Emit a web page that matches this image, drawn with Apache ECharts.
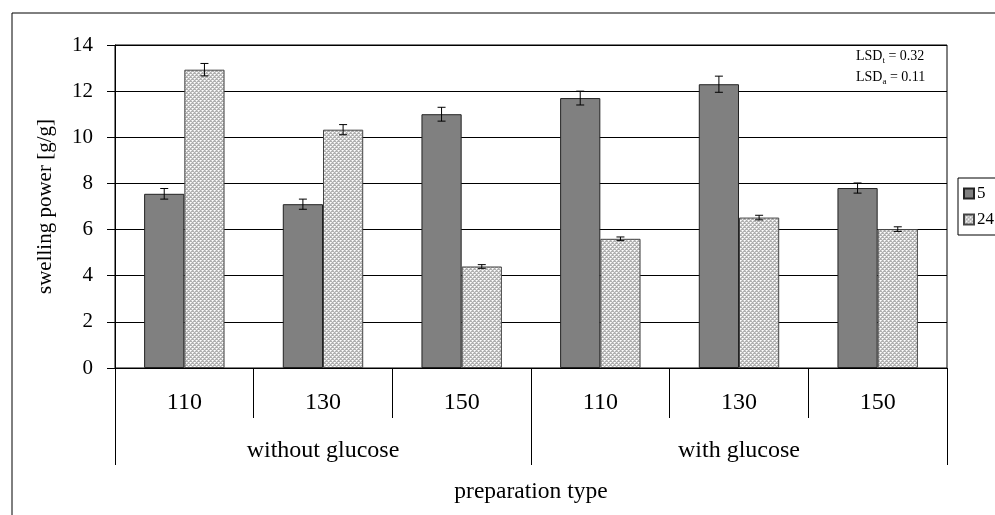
<!DOCTYPE html>
<html>
<head>
<meta charset="utf-8">
<script src="https://cdn.jsdelivr.net/npm/echarts@6/dist/echarts.min.js"></script>
<style>
html,body{margin:0;padding:0;background:#fff;}
#chart{width:995px;height:515px;}
</style>
</head>
<body>
<div id="chart"></div>
<script>
// ---- data ----
const groups = ['without glucose', 'with glucose'];
const categories = ['110', '130', '150', '110', '130', '150'];
const seriesNames = ['5', '24'];
const values5 = [7.55, 7.1, 11.0, 11.7, 12.3, 7.8];
const err5 = [0.23, 0.22, 0.3, 0.3, 0.35, 0.22];
const values24 = [12.93, 10.33, 4.4, 5.6, 6.52, 6.02];
const err24 = [0.27, 0.22, 0.08, 0.08, 0.1, 0.1];
const yTicks = [0, 2, 4, 6, 8, 10, 12, 14];
const lsdLines = [['LSD', 't', ' = 0.32'], ['LSD', 'a', ' = 0.11']];

// ---- pattern for "24" ----
function makePattern() {
  const c = document.createElement('canvas');
  c.width = 4; c.height = 4;
  const ctx = c.getContext('2d');
  ctx.fillStyle = '#b0b0b0';
  ctx.fillRect(0, 0, 4, 4);
  ctx.fillStyle = '#ffffff';
  ctx.fillRect(0, 0, 1, 1); ctx.fillRect(2, 2, 1, 1);
  ctx.fillStyle = '#e8e8e8';
  ctx.fillRect(1, 0, 1, 1); ctx.fillRect(0, 1, 1, 1); ctx.fillRect(3, 2, 1, 1); ctx.fillRect(2, 3, 1, 1);
  ctx.fillStyle = '#d0d0d0';
  ctx.fillRect(3, 0, 1, 1); ctx.fillRect(1, 2, 1, 1);
  return c;
}
const patternColor = { image: makePattern(), repeat: 'repeat' };

const BAR_FRAC = 0.29;
const FONT = 'Liberation Serif';

function errSeries(name, vals, errs, sign) {
  return {
    type: 'custom',
    name: name + ' err',
    xAxisIndex: 0, yAxisIndex: 0,
    z: 10,
    silent: true,
    encode: { x: 0, y: 1 },
    data: vals.map((v, i) => [i, v, errs[i]]),
    renderItem: function (params, api) {
      const idx = api.value(0), v = api.value(1), e = api.value(2);
      const band = api.size([1, 0])[0];
      const c = api.coord([idx, v]);
      const x = c[0] + sign * band * BAR_FRAC / 2;
      const top = api.coord([idx, v + e])[1];
      const bot = api.coord([idx, v - e])[1];
      const cap = 4;
      const st = { stroke: '#000', lineWidth: 1 };
      return {
        type: 'group',
        children: [
          { type: 'line', shape: { x1: x, y1: top, x2: x, y2: bot }, style: st },
          { type: 'line', shape: { x1: x - cap, y1: top, x2: x + cap, y2: top }, style: st },
          { type: 'line', shape: { x1: x - cap, y1: bot, x2: x + cap, y2: bot }, style: st }
        ]
      };
    }
  };
}

const chart = echarts.init(document.getElementById('chart'), null, { renderer: 'canvas' });

const richStyles = {
  m: { fontFamily: FONT, fontSize: 14, color: '#000', lineHeight: 21, verticalAlign: 'middle' },
  s: { fontFamily: FONT, fontSize: 9, color: '#000', lineHeight: 21, verticalAlign: 'middle', padding: [8, 0, 0, 0] }
};

const option = {
  animation: false,
  backgroundColor: '#fff',
  textStyle: { fontFamily: FONT, color: '#000' },
  grid: [
    { left: 115, right: 48, top: 45, bottom: 147, show: true, borderColor: '#000', borderWidth: 1, containLabel: false },
    { left: 115, right: 48, top: 45, bottom: 147, show: false, containLabel: false }
  ],
  xAxis: [
    {
      type: 'category', gridIndex: 0, data: categories,
      axisLine: { show: true, lineStyle: { color: '#000', width: 1 } },
      axisTick: { show: true, length: 50, interval: 0, lineStyle: { color: '#000' } },
      axisLabel: { margin: 23, fontSize: 24, fontFamily: FONT, color: '#000', interval: 0 },
      splitLine: { show: false }
    },
    {
      type: 'category', gridIndex: 1, data: groups,
      axisLine: { show: false },
      axisTick: { show: true, length: 97, interval: 0, lineStyle: { color: '#000' } },
      axisLabel: { margin: 71, fontSize: 24, fontFamily: FONT, color: '#000', interval: 0 },
      name: 'preparation type', nameLocation: 'middle', nameGap: 112,
      nameTextStyle: { fontFamily: FONT, fontSize: 23.5, color: '#000' },
      splitLine: { show: false }
    }
  ],
  yAxis: [
    {
      type: 'value', gridIndex: 0, min: yTicks[0], max: yTicks[yTicks.length - 1], interval: 2,
      axisLine: { show: true, lineStyle: { color: '#000', width: 1 } },
      axisTick: { show: true, length: 8, lineStyle: { color: '#000' } },
      axisLabel: { margin: 22, fontSize: 21, fontFamily: FONT, color: '#000' },
      splitLine: { show: true, lineStyle: { color: '#000', width: 1 } },
      name: 'swelling power [g/g]', nameLocation: 'middle', nameGap: 59, nameRotate: 90,
      nameTextStyle: { fontFamily: FONT, fontSize: 21, color: '#000' }
    },
    { type: 'value', gridIndex: 1, show: false, min: 0, max: 14 }
  ],
  legend: {
    data: seriesNames,
    orient: 'vertical',
    left: 958, top: 178,
    borderColor: '#000', borderWidth: 1,
    padding: [7, 6, 7, 5],
    itemWidth: 10, itemHeight: 10, itemGap: 9,
    icon: 'rect',
    textStyle: { fontFamily: FONT, fontSize: 17, color: '#000', padding: [0, 0, 0, -2] }
  },
  graphic: [
    { type: 'rect', z: -1, silent: true, shape: { x: 12, y: 13, width: 1000, height: 600 },
      style: { fill: 'none', stroke: '#000', lineWidth: 1 } },
    { type: 'text', left: 856, top: 46, z: 20,
      style: { text: lsdLines.map(l => '{m|' + l[0] + '}{s|' + l[1] + '}{m|' + l[2] + '}').join('\n'),
        rich: richStyles, lineHeight: 21, font: '14px ' + FONT } }
  ],
  series: [
    {
      type: 'bar', name: seriesNames[0], data: values5, xAxisIndex: 0, yAxisIndex: 0,
      barWidth: (BAR_FRAC * 100) + '%', barGap: '0%',
      itemStyle: { color: '#808080', borderColor: '#222', borderWidth: 1 }
    },
    {
      type: 'bar', name: seriesNames[1], data: values24, xAxisIndex: 0, yAxisIndex: 0,
      barWidth: (BAR_FRAC * 100) + '%', barGap: '0%',
      itemStyle: { color: patternColor, borderColor: '#444', borderWidth: 1 }
    },
    errSeries(seriesNames[0], values5, err5, -1),
    errSeries(seriesNames[1], values24, err24, 1)
  ]
};
chart.setOption(option);
</script>
</body>
</html>
